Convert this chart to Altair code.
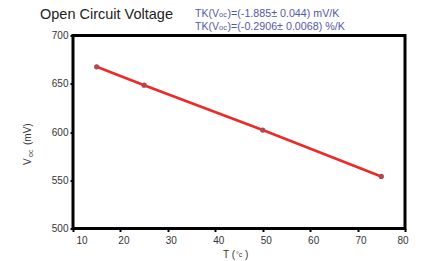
import altair as alt
import pandas as pd

# Data
temps = [15, 25, 50, 75]
voc_mv = [667.5, 648.5, 602.0, 554.0]

x_ticks = [10, 20, 30, 40, 50, 60, 70, 80]
y_ticks = [500, 550, 600, 650, 700]

title_text = "Open Circuit Voltage"
ann1 = ["TK(V", "oc", " )=(-1.885\u00b1 0.044) mV/K"]
ann2 = ["TK(V", "oc", " )=(-0.2906\u00b1 0.0068) %/K"]

df = pd.DataFrame({"T": temps, "V": voc_mv})

W, H = 332, 193
FONT = "Liberation Sans"

xs = alt.X("T:Q", scale=alt.Scale(domain=[10, 80], nice=False),
           axis=alt.Axis(values=x_ticks, title=None, labelFontSize=10, labelColor="#333",
                         tickColor="black", tickWidth=2, tickSize=3, labelPadding=4,
                         labelOffset=3, domain=False, grid=False, labelFont=FONT))
ys = alt.Y("V:Q", scale=alt.Scale(domain=[500, 700], nice=False),
           axis=alt.Axis(values=y_ticks, title=None, labelFontSize=10, labelColor="#333",
                         tickColor="black", tickWidth=2, tickSize=3, labelPadding=2,
                         domain=False, grid=False, labelFont=FONT))

base = alt.Chart(df)
line = base.mark_line(color="#ec2a2a", strokeWidth=2.7).encode(x=xs, y=ys)
pts = base.mark_point(filled=True, color="#b04850", size=28, opacity=1).encode(x="T:Q", y="V:Q")


def txt(s, x, y, size, color, angle=0, align="left"):
    return alt.Chart(pd.DataFrame({"t": [s]})).mark_text(
        font=FONT, fontSize=size, color=color, align=align, baseline="alphabetic", angle=angle
    ).encode(text="t:N", x=alt.value(x), y=alt.value(y))


L = 73  # plot left in page px
T = 35.5  # plot top in page px


def px(x):
    return x - L


def py(y):
    return y - T


layers = [line, pts]
# title
layers.append(txt(title_text, px(40), py(19), 14.5, "#222"))
# annotations
blue = "#5458a6"
for (a, b, c), yb in [(ann1, 17), (ann2, 30)]:
    layers.append(txt(a, px(195), py(yb), 10.5, blue))
    layers.append(txt(b, px(219), py(yb), 7.5, blue))
    layers.append(txt(c, px(227.5), py(yb), 10.7, blue))
# x title
layers.append(txt("T (", px(223), py(258), 10, "#333"))
layers.append(txt("\u00b0c", px(236), py(257), 7, "#333"))
layers.append(txt(")", px(245), py(258), 10, "#333"))
# y title (rotated)
layers.append(txt("V", px(31), py(165), 10, "#333", angle=270))
layers.append(txt("oc", px(32.5), py(157), 7, "#333", angle=270))
layers.append(txt("(mV)", px(31), py(145), 10, "#333", angle=270))

chart = alt.layer(*layers).properties(
    width=W, height=H,
    autosize=alt.AutoSizeParams(type="none"),
    padding={"left": L - 8, "top": T - 8, "right": 10, "bottom": 35},
    background="white",
).configure_view(stroke="black", strokeWidth=3)

chart.save("out.html", embed_options={"renderer": "svg", "actions": False})
